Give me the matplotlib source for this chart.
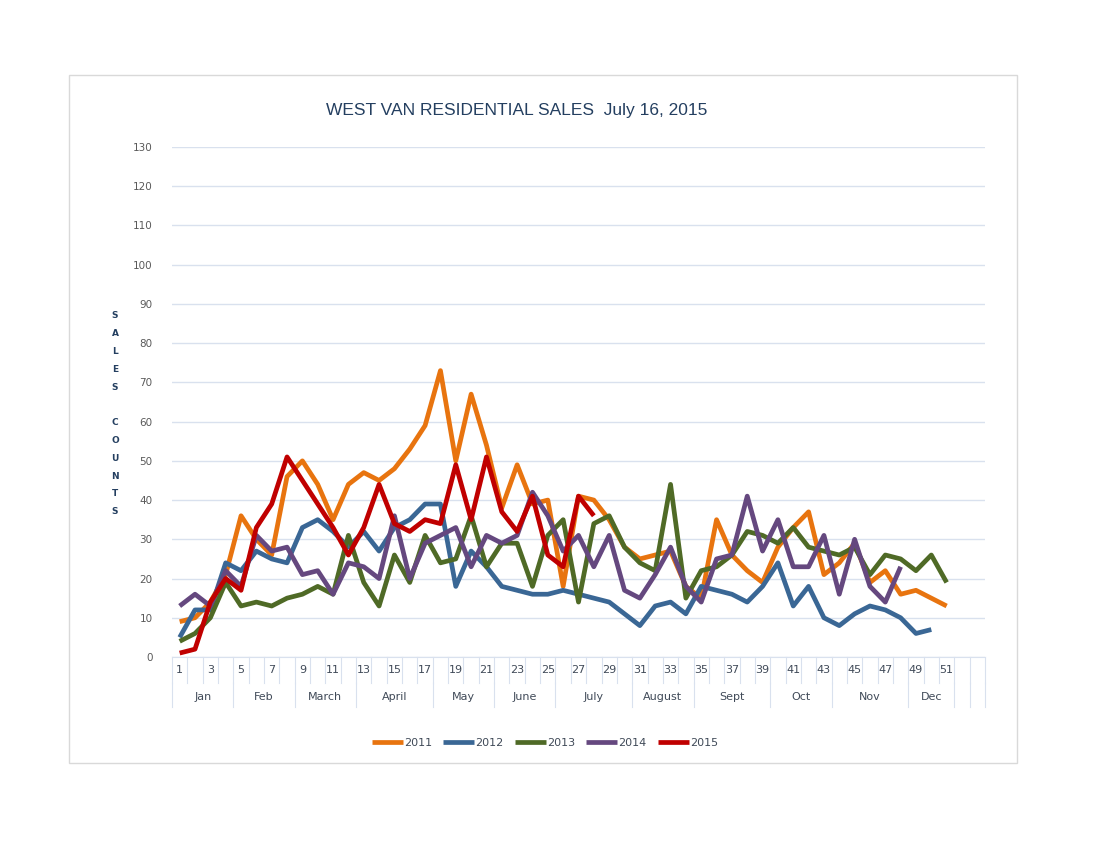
import matplotlib
matplotlib.use("Agg")
import matplotlib.pyplot as plt
from matplotlib.patches import Rectangle
from matplotlib.transforms import blended_transform_factory

# weekly sales counts, West Vancouver residential
sales_2011 = [9, 10, 14, 21, 36, 30, 26, 46, 50, 44, 35, 44, 47, 45, 48, 53, 59, 73, 50, 67,
              54, 38, 49, 39, 40, 18, 41, 40, 35, 28, 25, 26, 27, 18, 15, 35, 26, 22, 19, 28,
              33, 37, 21, 24, 29, 19, 22, 16, 17, 15, 13]
sales_2012 = [5, 12, 12, 24, 22, 27, 25, 24, 33, 35, 32, 28, 32, 27, 33, 35, 39, 39, 18, 27,
              23, 18, 17, 16, 16, 17, 16, 15, 14, 11, 8, 13, 14, 11, 18, 17, 16, 14, 18, 24,
              13, 18, 10, 8, 11, 13, 12, 10, 6, 7]
sales_2013 = [4, 6, 10, 19, 13, 14, 13, 15, 16, 18, 16, 31, 19, 13, 26, 19, 31, 24, 25, 36,
              23, 29, 29, 18, 31, 35, 14, 34, 36, 28, 24, 22, 44, 15, 22, 23, 26, 32, 31, 29,
              33, 28, 27, 26, 28, 21, 26, 25, 22, 26, 19]
sales_2014 = [13, 16, 13, 22, 18, 31, 27, 28, 21, 22, 16, 24, 23, 20, 36, 20, 29, 31, 33, 23,
              31, 29, 31, 42, 36, 27, 31, 23, 31, 17, 15, 21, 28, 18, 14, 25, 26, 41, 27, 35,
              23, 23, 31, 16, 30, 18, 14, 23]
sales_2015 = [1, 2, 14, 20, 17, 33, 39, 51, 45, 39, 33, 26, 33, 44, 34, 32, 35, 34, 49, 35,
              51, 37, 32, 41, 26, 23, 41, 36]

series = [("2011", sales_2011, "#E8740F"),
          ("2012", sales_2012, "#3A6795"),
          ("2013", sales_2013, "#4F6A26"),
          ("2014", sales_2014, "#65487F"),
          ("2015", sales_2015, "#C00000")]

week_labels = ["1", "", "3", "", "5", "", "7", "", "9", "", "11", "", "13", "", "15", "",
               "17", "", "19", "", "21", "", "23", "", "25", "", "27", "", "29", "", "31", "",
               "33", "", "35", "", "37", "", "39", "", "41", "", "43", "", "45", "", "47", "",
               "49", "", "51", "", ""]
months = ["Jan", "Feb", "March", "April", "May", "June", "July", "August",
          "Sept", "Oct", "Nov", "Dec", "", ""]
month_weeks = [4, 4, 4, 5, 4, 4, 5, 4, 5, 4, 5, 3, 1, 1]

navy = "#243F60"
grid_c = "#D9E1EE"
txt_c = "#404A58"

fig = plt.figure(figsize=(11, 8.5), dpi=100)
fig.patches.append(Rectangle((69 / 1100, 1 - 763 / 850), 948 / 1100, 688 / 850,
                             transform=fig.transFigure, fill=False,
                             edgecolor="#D9D9D9", linewidth=1))

ax = fig.add_axes([172 / 1100, 1 - 657 / 850, 813 / 1100, 510 / 850])
n = len(week_labels)
ax.set_xlim(0.5, n + 0.5)
ax.set_ylim(0, 130)

for name, vals, col in series:
    ax.plot(range(1, len(vals) + 1), vals, color=col, linewidth=3.4,
            solid_joinstyle="round", solid_capstyle="butt", label=name)

ax.set_yticks(range(0, 131, 10))
ax.yaxis.grid(True, color=grid_c, linewidth=1)
ax.set_axisbelow(True)
ax.tick_params(axis="y", length=0, pad=14, labelsize=7.5, labelcolor="#595959")
for side in ["top", "right", "left"]:
    ax.spines[side].set_visible(False)
ax.spines["bottom"].set_color(grid_c)

ax.set_xticks(range(1, n + 1))
ax.set_xticklabels(week_labels)
ax.tick_params(axis="x", length=0, pad=6, labelsize=8, labelcolor=txt_c)

# category separators and month row
tr = blended_transform_factory(ax.transData, ax.transAxes)
row1 = -(683 - 657) / 510
row2 = -(707 - 657) / 510
for b in range(n + 1):
    ax.plot([b + 0.5, b + 0.5], [0, row1], transform=tr, color=grid_c,
            linewidth=0.8, clip_on=False)
start = 0.5
for m, cnt in zip(months, month_weeks):
    ax.plot([start, start], [row1, row2], transform=tr, color=grid_c,
            linewidth=0.8, clip_on=False)
    ax.text(start + cnt / 2, -(697 - 657) / 510, m, transform=tr, ha="center",
            va="center", fontsize=8, color=txt_c)
    start += cnt
ax.plot([start, start], [row1, row2], transform=tr, color=grid_c,
        linewidth=0.8, clip_on=False)

fig.text(517 / 1100, 1 - 110 / 850, "WEST VAN RESIDENTIAL SALES  July 16, 2015",
         ha="center", va="center", fontsize=12.5, color=navy, family="Liberation Sans")

ylab = "SALES COUNTS"
for i, ch in enumerate(ylab):
    fig.text(115 / 1100, 1 - (316 + 17.8 * i) / 850, ch, ha="center", va="center",
             fontsize=6.5, fontweight="bold", color=navy)

fig.legend(loc="center", bbox_to_anchor=(545 / 1100, 1 - 743 / 850), ncol=5,
           frameon=False, fontsize=8, handlelength=2.8, handletextpad=0.1,
           columnspacing=1.0, labelcolor=txt_c)

fig.savefig("out.png", dpi=100)
